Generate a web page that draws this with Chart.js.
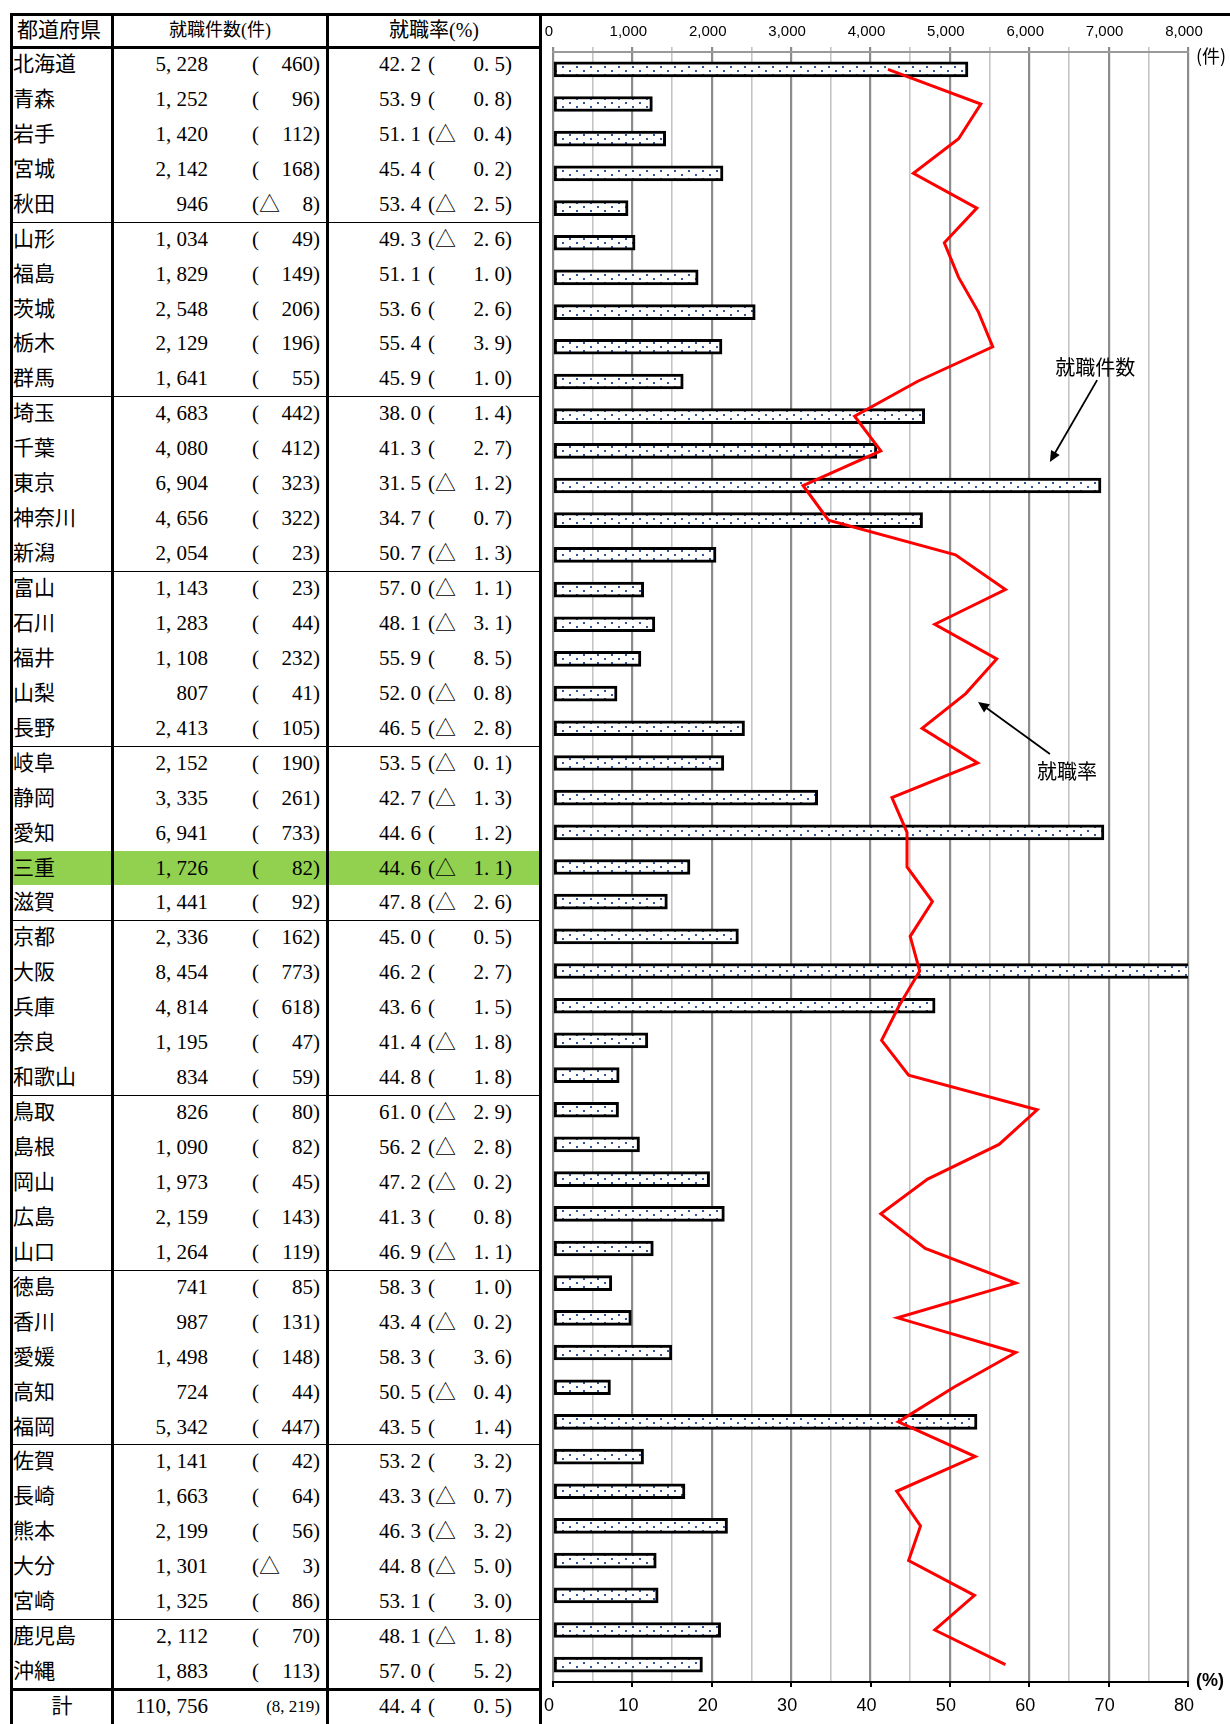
<!DOCTYPE html>
<html lang="ja">
<head>
<meta charset="utf-8">
<title>都道府県別 就職件数・就職率</title>
<script src="https://cdn.jsdelivr.net/npm/chart.js@4.4.1/dist/chart.umd.min.js"></script>
<style>
  html, body { margin: 0; padding: 0; background: #fff; }
  #page { position: relative; width: 1230px; height: 1724px; overflow: hidden; }
  #table { position: absolute; left: 0; top: 0; width: 1230px; height: 1724px;
           font-family: "Liberation Serif", "Noto Sans CJK JP", serif; font-size: 21px; color: #000; }
  .cell { position: absolute; white-space: nowrap; }
  .line { position: absolute; background: #000; }
  .fill { position: absolute; background: #92d050; }
  .p { display: inline-block; width: 0.5em; text-align: left; }
  canvas { position: absolute; left: 0; top: 0; }
</style>
</head>
<body>
<div id="page">
  <div id="table"></div>
  <canvas id="chart" width="1230" height="1724"></canvas>
</div>
<script>
// DATA
const prefectures = ['北海道', '青森', '岩手', '宮城', '秋田', '山形', '福島', '茨城', '栃木', '群馬',
  '埼玉', '千葉', '東京', '神奈川', '新潟', '富山', '石川', '福井', '山梨', '長野',
  '岐阜', '静岡', '愛知', '三重', '滋賀', '京都', '大阪', '兵庫', '奈良', '和歌山',
  '鳥取', '島根', '岡山', '広島', '山口', '徳島', '香川', '愛媛', '高知', '福岡',
  '佐賀', '長崎', '熊本', '大分', '宮崎', '鹿児島', '沖縄'];
const jobCounts = [5228, 1252, 1420, 2142, 946, 1034, 1829, 2548, 2129, 1641,
  4683, 4080, 6904, 4656, 2054, 1143, 1283, 1108, 807, 2413,
  2152, 3335, 6941, 1726, 1441, 2336, 8454, 4814, 1195, 834,
  826, 1090, 1973, 2159, 1264, 741, 987, 1498, 724, 5342,
  1141, 1663, 2199, 1301, 1325, 2112, 1883];
const jobCountChanges = [460, 96, 112, 168, -8, 49, 149, 206, 196, 55,
  442, 412, 323, 322, 23, 23, 44, 232, 41, 105,
  190, 261, 733, 82, 92, 162, 773, 618, 47, 59,
  80, 82, 45, 143, 119, 85, 131, 148, 44, 447,
  42, 64, 56, -3, 86, 70, 113];
const jobRates = [42.2, 53.9, 51.1, 45.4, 53.4, 49.3, 51.1, 53.6, 55.4, 45.9,
  38.0, 41.3, 31.5, 34.7, 50.7, 57.0, 48.1, 55.9, 52.0, 46.5,
  53.5, 42.7, 44.6, 44.6, 47.8, 45.0, 46.2, 43.6, 41.4, 44.8,
  61.0, 56.2, 47.2, 41.3, 46.9, 58.3, 43.4, 58.3, 50.5, 43.5,
  53.2, 43.3, 46.3, 44.8, 53.1, 48.1, 57.0];
const jobRateChanges = [0.5, 0.8, -0.4, 0.2, -2.5, -2.6, 1.0, 2.6, 3.9, 1.0,
  1.4, 2.7, -1.2, 0.7, -1.3, -1.1, -3.1, 8.5, -0.8, -2.8,
  -0.1, -1.3, 1.2, -1.1, -2.6, 0.5, 2.7, 1.5, -1.8, 1.8,
  -2.9, -2.8, -0.2, 0.8, -1.1, 1.0, -0.2, 3.6, -0.4, 1.4,
  3.2, -0.7, -3.2, -5.0, 3.0, -1.8, 5.2];
const totalLabel = '計';
const totalCount = 110756;
const totalCountChange = 8219;
const totalRate = 44.4;
const totalRateChange = 0.5;
const highlightPrefecture = '三重';

const headers = ['都道府県', '就職件数(件)', '就職率(%)'];
const countAxisMax = 8000;
const rateAxisMax = 80;

// TABLE (left side)
const table = document.getElementById('table');
const rowTop0 = 47;
const rowH = (1689 - 47) / 47;

const punct = (s) => s.replace(/([,.])/g, '<span class="p">$1</span>');
const fmtInt = (n) => punct(Math.abs(n).toLocaleString('en-US'));
const fmtDec = (n) => punct(Math.abs(n).toFixed(1));

function addCell(html, top, height, opts) {
  const d = document.createElement('div');
  d.className = 'cell';
  d.innerHTML = html;
  d.style.top = top + 'px';
  d.style.height = height + 'px';
  d.style.lineHeight = height + 'px';
  if (opts.left !== undefined) d.style.left = opts.left + 'px';
  if (opts.right !== undefined) { d.style.left = 'auto'; d.style.right = (1230 - opts.right) + 'px'; }
  if (opts.center !== undefined) { d.style.left = (opts.center - 150) + 'px'; d.style.width = '300px'; d.style.textAlign = 'center'; }
  if (opts.size) d.style.fontSize = opts.size + 'px';
  table.appendChild(d);
}

function addLine(x, y, w, h) {
  const d = document.createElement('div');
  d.className = 'line';
  d.style.left = x + 'px'; d.style.top = y + 'px';
  d.style.width = w + 'px'; d.style.height = h + 'px';
  table.appendChild(d);
}

// highlight row
const hi = prefectures.indexOf(highlightPrefecture);
if (hi >= 0) {
  const f = document.createElement('div');
  f.className = 'fill';
  f.style.left = '12px'; f.style.width = '527px';
  f.style.top = (rowTop0 + hi * rowH) + 'px';
  f.style.height = rowH + 'px';
  table.appendChild(f);
}

// header
addCell(headers[0], 14, 33, { left: 17, size: 21 });
addCell(headers[1], 14, 33, { center: 220, size: 18 });
addCell(headers[2], 14, 33, { center: 434, size: 20 });

prefectures.forEach((name, i) => {
  const top = rowTop0 + i * rowH;
  addCell(name, top, rowH, { left: 13 });
  addCell(fmtInt(jobCounts[i]), top, rowH, { right: 208 });
  addCell('(' + (jobCountChanges[i] < 0 ? '△' : ''), top, rowH, { left: 252 });
  addCell(fmtInt(jobCountChanges[i]) + ')', top, rowH, { right: 320 });
  addCell(fmtDec(jobRates[i]), top, rowH, { right: 421 });
  addCell('(' + (jobRateChanges[i] < 0 ? '△' : ''), top, rowH, { left: 428 });
  addCell(fmtDec(jobRateChanges[i]) + ')', top, rowH, { right: 512 });
});

// total row
const totTop = 1689;
addCell(totalLabel, totTop, 35, { center: 62 });
addCell(fmtInt(totalCount), totTop, 35, { right: 208 });
addCell('(' + fmtInt(totalCountChange) + ')', totTop, 35, { right: 320, size: 17 });
addCell(fmtDec(totalRate), totTop, 35, { right: 421 });
addCell('(', totTop, 35, { left: 428 });
addCell(fmtDec(totalRateChange) + ')', totTop, 35, { right: 512 });

// borders
addLine(10, 13, 1220, 3);        // top, runs across the chart too
addLine(10, 13, 3, 1711);        // left
addLine(539, 13, 3, 1711);       // right of table
addLine(111, 13, 3, 1711);       // column 1
addLine(326, 13, 3, 1711);       // column 2
addLine(10, 46, 532, 3);         // header bottom
addLine(10, 1688, 532, 3);       // total row top
for (let g = 5; g < prefectures.length; g += 5) {
  addLine(10, Math.round(rowTop0 + g * rowH), 532, 1);
}

// CHART (right side)
const canvas = document.getElementById('chart');
const ctx = canvas.getContext('2d');

const dotTile = document.createElement('canvas');
dotTile.width = 14; dotTile.height = 8;
const tctx = dotTile.getContext('2d');
tctx.fillStyle = '#ffffff';
tctx.fillRect(0, 0, 14, 8);
tctx.fillStyle = '#2f5597';
tctx.fillRect(2, 2, 2, 2);
tctx.fillRect(9, 6, 2, 2);
const dotPattern = ctx.createPattern(dotTile, 'repeat');

// annotation arrows, in data units (count axis / category index)
const notes = [
  { text: '就職件数', x: 6830, y: 8.6, fromX: 6855, fromY: 8.96, toX: 6260, toY: 11.32 },
  { text: '就職率', x: 6475, y: 20.23, fromX: 6260, fromY: 19.74, toX: 5355, toY: 18.24 }
];

const decorations = {
  id: 'decorations',
  afterDraw(chart) {
    const c = chart.ctx;
    const area = chart.chartArea;
    const xs = chart.scales.x;
    const ys = chart.scales.y;
    c.save();
    c.fillStyle = '#000';
    c.textBaseline = 'middle';
    c.textAlign = 'left';
    c.font = '18px "Noto Sans CJK JP", sans-serif';
    c.fillText('(件)', area.right + 8, area.top + 4);
    c.font = 'bold 18px "Liberation Sans", sans-serif';
    c.fillText('(%)', area.right + 8, area.bottom - 1);

    c.font = '20px "Noto Sans CJK JP", sans-serif';
    c.textAlign = 'center';
    c.strokeStyle = '#000';
    c.lineWidth = 1.8;
    notes.forEach(n => {
      c.fillText(n.text, xs.getPixelForValue(n.x), ys.getPixelForValue(n.y));
      const x1 = xs.getPixelForValue(n.fromX), y1 = ys.getPixelForValue(n.fromY);
      const x2 = xs.getPixelForValue(n.toX), y2 = ys.getPixelForValue(n.toY);
      const a = Math.atan2(y2 - y1, x2 - x1);
      const len = 11;
      c.beginPath();
      c.moveTo(x1, y1);
      c.lineTo(x2 - Math.cos(a) * len * 0.8, y2 - Math.sin(a) * len * 0.8);
      c.stroke();
      c.beginPath();
      c.moveTo(x2, y2);
      c.lineTo(x2 - len * Math.cos(a) + 5 * Math.sin(a), y2 - len * Math.sin(a) - 5 * Math.cos(a));
      c.lineTo(x2 - len * Math.cos(a) - 5 * Math.sin(a), y2 - len * Math.sin(a) + 5 * Math.cos(a));
      c.closePath();
      c.fill();
    });
    c.restore();
  }
};

new Chart(ctx, {
  type: 'bar',
  data: {
    labels: prefectures,
    datasets: [
      {
        type: 'line',
        label: '就職率',
        data: jobRates,
        xAxisID: 'x2',
        yAxisID: 'y',
        borderColor: '#ff0000',
        borderWidth: 3,
        pointRadius: 0,
        tension: 0,
        fill: false,
        order: 0
      },
      {
        label: '就職件数',
        data: jobCounts,
        xAxisID: 'x',
        yAxisID: 'y',
        backgroundColor: dotPattern,
        borderColor: '#000000',
        borderWidth: 3,
        borderSkipped: false,
        barThickness: 15,
        order: 1
      }
    ]
  },
  options: {
    indexAxis: 'y',
    responsive: false,
    animation: false,
    devicePixelRatio: 1,
    layout: { padding: { left: 553, right: 42, top: 14, bottom: 0 } },
    plugins: { legend: { display: false }, tooltip: { enabled: false } },
    scales: {
      y: {
        type: 'category',
        display: false,
        offset: true,
        grid: { display: false }
      },
      x: {
        position: 'top',
        min: 0, max: countAxisMax,
        afterFit: (s) => { s.height = 38; },
        border: { color: '#9a9a9a', width: 2 },
        grid: {
          color: (c) => (c.tick && c.tick.value % 1000 === 0) ? '#8c8c8c' : '#c4c4c4',
          lineWidth: (c) => (c.tick && c.tick.value % 1000 === 0) ? 2.2 : 1.6,
          tickLength: 5
        },
        ticks: {
          stepSize: 500,
          autoSkip: false,
          maxRotation: 0,
          padding: 6,
          labelOffset: -4,
          color: '#000',
          font: { family: '"Liberation Sans", sans-serif', size: 15 },
          callback: (v) => v % 1000 === 0 ? v.toLocaleString('en-US') : ''
        }
      },
      x2: {
        position: 'bottom',
        min: 0, max: rateAxisMax,
        afterFit: (s) => { s.height = 42; },
        border: { color: '#000', width: 2 },
        grid: { drawOnChartArea: false, color: '#000', lineWidth: 2, tickLength: 5 },
        ticks: {
          stepSize: 10,
          autoSkip: false,
          maxRotation: 0,
          padding: 8,
          labelOffset: -4,
          color: '#000',
          font: { family: '"Liberation Sans Narrow", "Liberation Sans", sans-serif', size: 18 }
        }
      }
    }
  },
  plugins: [decorations]
});
</script>
</body>
</html>
